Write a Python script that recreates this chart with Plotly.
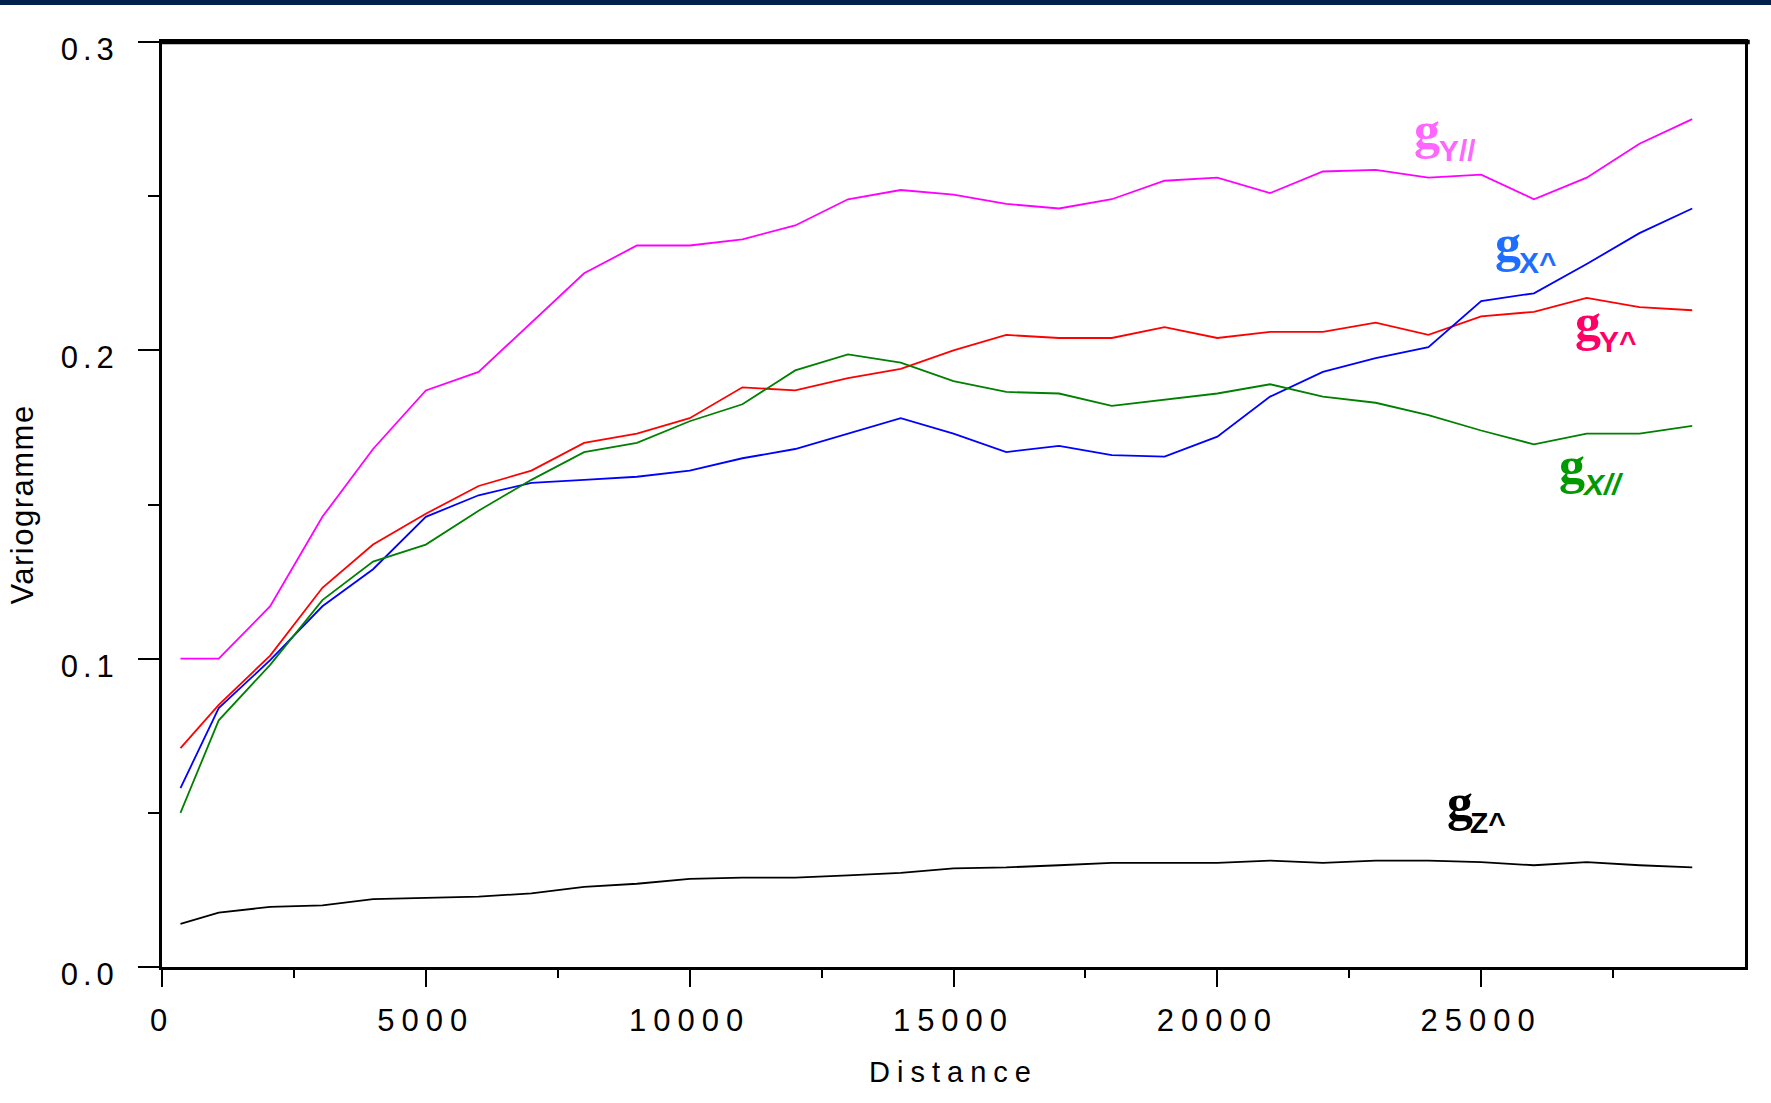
import plotly.graph_objects as go

# Lag distances (m)
distance = [350, 1075, 2050, 3040, 4000, 5000, 6000, 7000, 8000, 9000,
            10000, 11000, 12000, 13000, 14000, 15000, 16000, 17000, 18000, 19000,
            20000, 21000, 22000, 23000, 24000, 25000, 26000, 27000, 28000, 29000]

# Experimental variograms per direction
gamma_y_par = [0.100, 0.100, 0.117, 0.146, 0.168, 0.187, 0.193, 0.209, 0.225, 0.234,
               0.234, 0.236, 0.2405, 0.249, 0.252, 0.2505, 0.2475, 0.246, 0.249, 0.255,
               0.256, 0.251, 0.258, 0.2585, 0.256, 0.257, 0.249, 0.256, 0.267, 0.275]
gamma_y_perp = [0.071, 0.085, 0.101, 0.123, 0.137, 0.147, 0.156, 0.161, 0.170, 0.173,
                0.178, 0.188, 0.187, 0.191, 0.194, 0.200, 0.205, 0.204, 0.204, 0.2075,
                0.204, 0.206, 0.206, 0.209, 0.205, 0.211, 0.2125, 0.217, 0.214, 0.213]
gamma_x_perp = [0.058, 0.084, 0.0995, 0.117, 0.129, 0.146, 0.153, 0.157, 0.158, 0.159,
                0.161, 0.165, 0.168, 0.173, 0.178, 0.173, 0.167, 0.169, 0.166, 0.1655,
                0.172, 0.185, 0.193, 0.1975, 0.201, 0.216, 0.2185, 0.228, 0.238, 0.246]
gamma_x_par = [0.050, 0.080, 0.098, 0.119, 0.1315, 0.137, 0.148, 0.158, 0.167, 0.170,
               0.177, 0.1825, 0.1935, 0.1987, 0.196, 0.190, 0.1865, 0.186, 0.182, 0.184,
               0.186, 0.189, 0.185, 0.183, 0.179, 0.174, 0.1695, 0.173, 0.173, 0.1755]
gamma_z_perp = [0.014, 0.0176, 0.0195, 0.020, 0.022, 0.0224, 0.0228, 0.0239, 0.026, 0.027,
                0.0286, 0.029, 0.029, 0.0297, 0.0305, 0.032, 0.0323, 0.033, 0.0338, 0.0338,
                0.0338, 0.0345, 0.0338, 0.0345, 0.0345, 0.034, 0.033, 0.034, 0.033, 0.0323]

x_tickvals = [0, 5000, 10000, 15000, 20000, 25000]
x_ticktext = ["0", "5000", "10000", "15000", "20000", "25000"]
y_tickvals = [0.0, 0.1, 0.2, 0.3]
y_ticktext = ["0.0", "0.1", "0.2", "0.3"]

series = [
    (gamma_y_par, "#FF00FF"),
    (gamma_y_perp, "#FF0000"),
    (gamma_x_perp, "#0000FF"),
    (gamma_x_par, "#008000"),
    (gamma_z_perp, "#000000"),
]

# Curve labels: (gamma glyph position, subscript position, subscript markup, colour)
labels = [
    ((23680, 0.2712), (24155, 0.2648), "<b>Y//</b>", "#FF66FF"),
    ((25217, 0.2348), (25672, 0.2285), "<b>X^</b>", "#1E6FFF"),
    ((26734, 0.2089), (27189, 0.2029), "<b>Y^</b>", "#FF0066"),
    ((26430, 0.1625), (26866, 0.1565), "<b><i>X//</i></b>", "#009900"),
    ((24307, 0.0532), (24743, 0.0469), "<b>Z^</b>", "#000000"),
]


def spaced(text, px):
    return f"<span style='letter-spacing:{px}px'>{text}</span>"


fig = go.Figure()
for values, colour in series:
    fig.add_trace(go.Scatter(x=distance, y=values, mode="lines",
                             line=dict(color=colour, width=1.8),
                             showlegend=False, hoverinfo="skip"))

for (gx, gy), (sx, sy), sub, colour in labels:
    fig.add_annotation(x=gx, y=gy, xref="x", yref="y", text="<b>g</b>",
                       showarrow=False, xanchor="left", yanchor="middle",
                       font=dict(family="Liberation Serif", size=52, color=colour))
    fig.add_annotation(x=sx, y=sy, xref="x", yref="y", text=sub,
                       showarrow=False, xanchor="left", yanchor="middle",
                       font=dict(family="Liberation Sans", size=30, color=colour))

# Dark banner along the top edge of the page
fig.add_shape(type="rect", xref="paper", yref="paper",
              x0=-0.2, x1=1.1, y0=1 + 37 / 925, y1=1.2,
              fillcolor="#00204F", line=dict(width=0), layer="above")

# Heavier top edge of the frame
fig.add_shape(type="line", xref="paper", yref="paper",
              x0=0, x1=1.003, y0=1, y1=1,
              line=dict(color="black", width=4.5), layer="above")

fig.update_layout(
    width=1771, height=1103,
    margin=dict(l=162, r=26, t=42, b=136),
    paper_bgcolor="white", plot_bgcolor="white",
    font=dict(family="Liberation Sans", color="black"),
    xaxis=dict(
        range=[0, 30000], showgrid=False, zeroline=False,
        showline=True, linecolor="black", linewidth=3, mirror=True,
        ticks="outside", ticklen=17, tickwidth=2, tickcolor="black",
        tickvals=x_tickvals, ticktext=[spaced(t, 7) for t in x_ticktext],
        tickfont=dict(size=31, family="Liberation Sans"),
        ticklabelstandoff=7,
        minor=dict(tickvals=[2500, 7500, 12500, 17500, 22500, 27500],
                   ticks="outside", ticklen=8, tickwidth=2, tickcolor="black"),
        title=dict(text=spaced("Distance", 7), standoff=25,
                   font=dict(size=29, family="Liberation Sans")),
        automargin=False,
    ),
    yaxis=dict(
        range=[0, 0.3], showgrid=False, zeroline=False,
        showline=True, linecolor="black", linewidth=3, mirror=True,
        ticks="outside", ticklen=21, tickwidth=2, tickcolor="black",
        tickvals=y_tickvals, ticktext=[spaced(t, 5) for t in y_ticktext],
        tickfont=dict(size=31, family="Liberation Sans"),
        ticklabelstandoff=13, ticklabelshift=7,
        minor=dict(tickvals=[0.05, 0.15, 0.25],
                   ticks="outside", ticklen=11, tickwidth=2, tickcolor="black"),
        title=dict(text=spaced("Variogramme", 1.5), standoff=18,
                   font=dict(size=31, family="Liberation Sans")),
        automargin=False,
    ),
)

fig.write_html("out.html")
